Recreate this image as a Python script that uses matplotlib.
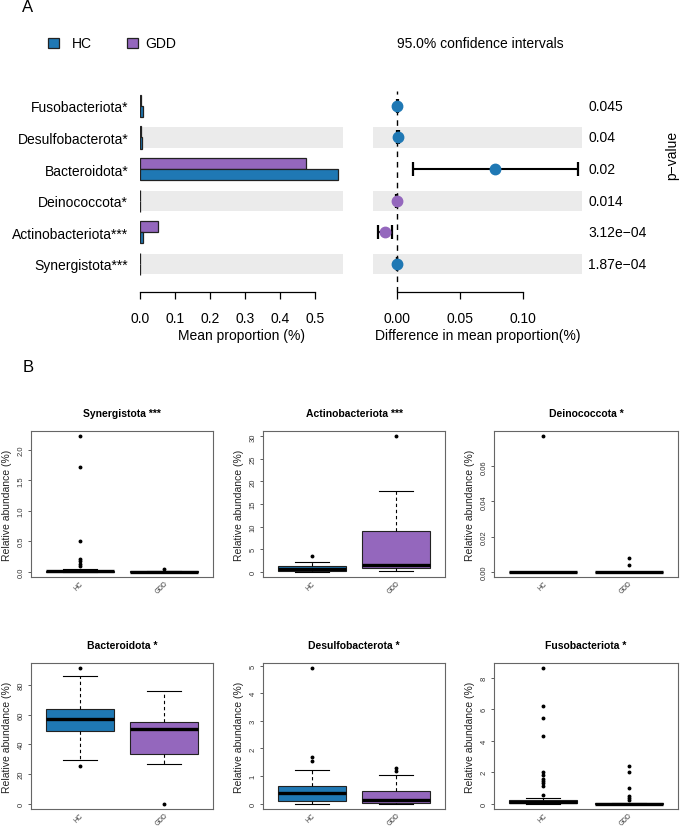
import matplotlib
matplotlib.use("Agg")
import matplotlib.pyplot as plt
from matplotlib.patches import Rectangle
from matplotlib.transforms import blended_transform_factory

plt.rcParams['font.family'] = ['Liberation Sans', 'DejaVu Sans']

W, H = 685, 829
HC_COL = '#1F78B4'
GDD_COL = '#9467BD'
BAND = '#EBEBEB'

# ---------------- Panel A data ----------------
taxa_a = ['Fusobacteriota*', 'Desulfobacterota*', 'Bacteroidota*',
          'Deinococcota*', 'Actinobacteriota***', 'Synergistota***']
hc_mean = [0.008, 0.007, 0.566, 0.0002, 0.008, 0.001]
gdd_mean = [0.002, 0.003, 0.474, 0.0001, 0.051, 0.0003]
diff_mean = [0.0003, 0.0010, 0.0778, -0.0002, -0.0095, 0.0002]
diff_lo = [0.0000, 0.0002, 0.0127, -0.0005, -0.0153, 0.0000]
diff_hi = [0.0007, 0.0019, 0.1437, 0.0000, -0.0042, 0.0004]
p_labels = ['0.045', '0.04', '0.02', '0.014', '3.12e\u221204', '1.87e\u221204']
bar_ticks = [0.0, 0.1, 0.2, 0.3, 0.4, 0.5]
ci_ticks = [0.00, 0.05, 0.10]

# ---------------- Panel B data ----------------
box_titles = ['Synergistota ***', 'Actinobacteriota ***', 'Deinococcota *',
              'Bacteroidota *', 'Desulfobacterota *', 'Fusobacteriota *']
groups = ['HC', 'GDD']
hc_q1 = [0.0, 0.2, 0.0, 49.1, 0.10, 0.02]
hc_med = [0.003, 0.6, 0.0, 57.0, 0.37, 0.10]
hc_q3 = [0.012, 1.3, 0.0, 63.7, 0.65, 0.25]
hc_lo = [0.0, 0.0, 0.0, 29.6, 0.0, 0.0]
hc_hi = [0.04, 2.2, 0.0, 85.7, 1.21, 0.36]
hc_out = [[2.22, 1.71, 0.50, 0.20, 0.17, 0.12, 0.09],
          [3.5],
          [0.0771],
          [91.1, 25.1],
          [4.9, 1.68, 1.53],
          [8.6, 6.23, 5.43, 4.32, 1.99, 1.84, 1.56, 1.46, 1.31, 1.14, 0.57]]
gdd_q1 = [0.0, 0.8, 0.0, 33.6, 0.02, 0.0]
gdd_med = [0.0, 1.5, 0.0, 50.2, 0.14, 0.0]
gdd_q3 = [0.002, 8.9, 0.0, 55.1, 0.45, 0.01]
gdd_lo = [0.0, 0.1, 0.0, 26.7, 0.0, 0.0]
gdd_hi = [0.005, 17.8, 0.0, 75.6, 1.05, 0.03]
gdd_out = [[0.04],
           [30.0],
           [0.0076, 0.0038],
           [0.0],
           [1.29, 1.19],
           [2.41, 1.99, 0.99, 0.46, 0.34, 0.2]]
box_yticks = [[0, 0.5, 1.0, 1.5, 2.0], [0, 5, 10, 15, 20, 25, 30],
              [0, 0.02, 0.04, 0.06], [0, 20, 40, 60, 80],
              [0, 1, 2, 3, 4, 5], [0, 2, 4, 6, 8]]
box_ytick_labels = [['0.0', '0.5', '1.0', '1.5', '2.0'],
                    ['0', '5', '10', '15', '20', '25', '30'],
                    ['0.00', '0.02', '0.04', '0.06'],
                    ['0', '20', '40', '60', '80'],
                    ['0', '1', '2', '3', '4', '5'],
                    ['0', '2', '4', '6', '8']]

fig = plt.figure(figsize=(W / 100, H / 100), dpi=100)


def add_ax(l, t, r, b):
    return fig.add_axes([l / W, 1 - b / H, (r - l) / W, (b - t) / H])


def fx(x):
    return x / W


def fy(y):
    return 1 - y / H


n = len(taxa_a)
ypos = [n - i for i in range(n)]
ylo, yhi = 0.114, 6.47

# --- bar panel ---
ax1 = add_ax(140, 92, 343, 293)
for i, y in enumerate(ypos):
    if i % 2 == 1:
        ax1.axhspan(y - 0.32, y + 0.32, color=BAND, lw=0, zorder=0)
ax1.barh([y + 0.175 for y in ypos], gdd_mean, height=0.35, color=GDD_COL,
         edgecolor='#222222', lw=0.9, zorder=2)
ax1.barh([y - 0.175 for y in ypos], hc_mean, height=0.35, color=HC_COL,
         edgecolor='#222222', lw=0.9, zorder=2)
ax1.set_xlim(0, 0.58)
ax1.set_ylim(ylo, yhi)
ax1.set_yticks(ypos)
ax1.set_yticklabels(taxa_a, fontsize=10)
ax1.tick_params(axis='y', length=0, pad=8.5)
ax1.set_xticks(bar_ticks)
ax1.set_xticklabels(['%.1f' % t for t in bar_ticks], fontsize=10)
ax1.tick_params(axis='x', direction='out', length=5, width=0.9, pad=8.5)
for s in ['left', 'top', 'right']:
    ax1.spines[s].set_visible(False)
ax1.spines['bottom'].set_bounds(0, 0.5)
ax1.spines['bottom'].set_linewidth(0.9)
ax1.set_xlabel('Mean proportion (%)', fontsize=10, labelpad=2)

# --- CI panel ---
ax2 = add_ax(373, 92, 582, 293)
for i, y in enumerate(ypos):
    if i % 2 == 1:
        ax2.axhspan(y - 0.32, y + 0.32, color=BAND, lw=0, zorder=0)
ax2.axvline(0, color='black', lw=1, ls=(0, (4, 3.5)), zorder=1)
for i, y in enumerate(ypos):
    ax2.errorbar([diff_mean[i]], [y],
                 xerr=[[diff_mean[i] - diff_lo[i]], [diff_hi[i] - diff_mean[i]]],
                 fmt='none', ecolor='black', elinewidth=1.5, capsize=4.8,
                 capthick=1.6, zorder=2)
    ax2.plot([diff_mean[i]], [y], 'o', ms=7.5,
             color=HC_COL if diff_mean[i] > 0 else GDD_COL, zorder=3)
tr = blended_transform_factory(ax2.transAxes, ax2.transData)
for i, y in enumerate(ypos):
    ax2.text(1.029, y, p_labels[i], transform=tr, ha='left', va='center',
             fontsize=10)
ax2.set_xlim(-0.019, 0.147)
ax2.set_ylim(ylo, yhi)
ax2.set_yticks([])
ax2.set_xticks(ci_ticks)
ax2.set_xticklabels(['%.2f' % t for t in ci_ticks], fontsize=10)
ax2.tick_params(axis='x', direction='out', length=5, width=0.9, pad=8.5)
for s in ['left', 'top', 'right']:
    ax2.spines[s].set_visible(False)
ax2.spines['bottom'].set_bounds(0, 0.10)
ax2.spines['bottom'].set_linewidth(0.9)
ax2.set_xlabel('Difference in mean proportion(%)', fontsize=10, labelpad=2)

# --- panel A header ---
fig.text(fx(28), fy(8), 'A', fontsize=12, ha='center', va='center')
fig.add_artist(Rectangle((fx(48), fy(49)), 11 / W, 10 / H, transform=fig.transFigure,
                         facecolor=HC_COL, edgecolor='#222222', lw=0.9))
fig.text(fx(72), fy(44), 'HC', fontsize=10, ha='left', va='center')
fig.add_artist(Rectangle((fx(127), fy(49)), 11 / W, 10 / H, transform=fig.transFigure,
                         facecolor=GDD_COL, edgecolor='#222222', lw=0.9))
fig.text(fx(145), fy(44), 'GDD', fontsize=10, ha='left', va='center')
fig.text(fx(397), fy(44), '95.0% confidence intervals', fontsize=10,
         ha='left', va='center')
fig.text(fx(672), fy(155), 'p\u2212value', fontsize=10, rotation=90,
         ha='center', va='center')

# ---------------- Panel B ----------------
fig.text(fx(28), fy(368), 'B', fontsize=12, ha='center', va='center')

frames = [(31, 432, 213, 578), (263, 432, 445, 578), (494, 432, 678, 578),
          (31, 664, 213, 810), (263, 664, 445, 810), (494, 664, 678, 810)]

for k, (l, t, r, b) in enumerate(frames):
    ax = add_ax(l, t, r, b)
    stats = [dict(med=hc_med[k], q1=hc_q1[k], q3=hc_q3[k], whislo=hc_lo[k],
                  whishi=hc_hi[k], fliers=hc_out[k], label=groups[0]),
             dict(med=gdd_med[k], q1=gdd_q1[k], q3=gdd_q3[k], whislo=gdd_lo[k],
                  whishi=gdd_hi[k], fliers=gdd_out[k], label=groups[1])]
    bp = ax.bxp(stats, positions=[1, 2], widths=0.8, patch_artist=True,
                showfliers=True, capwidths=0.4,
                boxprops=dict(lw=0.8, edgecolor='#222222'),
                medianprops=dict(color='black', lw=2.4, solid_capstyle='butt'),
                whiskerprops=dict(ls=(0, (3, 2.5)), lw=0.8, color='black'),
                capprops=dict(lw=0.8, color='black'),
                flierprops=dict(marker='o', markersize=1.8, markerfacecolor='black',
                                markeredgecolor='black', lw=0))
    bp['boxes'][0].set_facecolor(HC_COL)
    bp['boxes'][1].set_facecolor(GDD_COL)
    allv = hc_out[k] + gdd_out[k] + [hc_lo[k], hc_hi[k], gdd_lo[k], gdd_hi[k]]
    vmin, vmax = min(allv), max(allv)
    span = vmax - vmin
    ax.set_ylim(vmin - 0.04 * span, vmax + 0.04 * span)
    ax.set_xlim(0.42, 2.58)
    ax.set_xticks([])
    ax.set_yticks(box_yticks[k])
    ax.set_yticklabels(box_ytick_labels[k], fontsize=5.5, color='#333333',
                       rotation=90, va='center')
    ax.tick_params(axis='y', direction='out', length=2.5, width=0.6,
                   color='#444444', pad=2)
    for s in ax.spines.values():
        s.set_color('#666666')
        s.set_linewidth(0.8)
    for xi, g in zip([1, 2], groups):
        ax.text(xi + 0.03, -5 / (b - t), g,
                transform=blended_transform_factory(ax.transData, ax.transAxes),
                rotation=45, rotation_mode='anchor', ha='right', va='center',
                fontsize=4.8, color='#333333')
    ax.text(0.5, 1 + 18 / (b - t), box_titles[k], transform=ax.transAxes,
            ha='center', va='center', fontsize=7.5, fontweight='bold')
    fig.text(fx(l - 24), fy((t + b) / 2), 'Relative abundance (%)', rotation=90,
             ha='center', va='center', fontsize=7.5, color='#222222')

fig.savefig('out.png', dpi=100)
